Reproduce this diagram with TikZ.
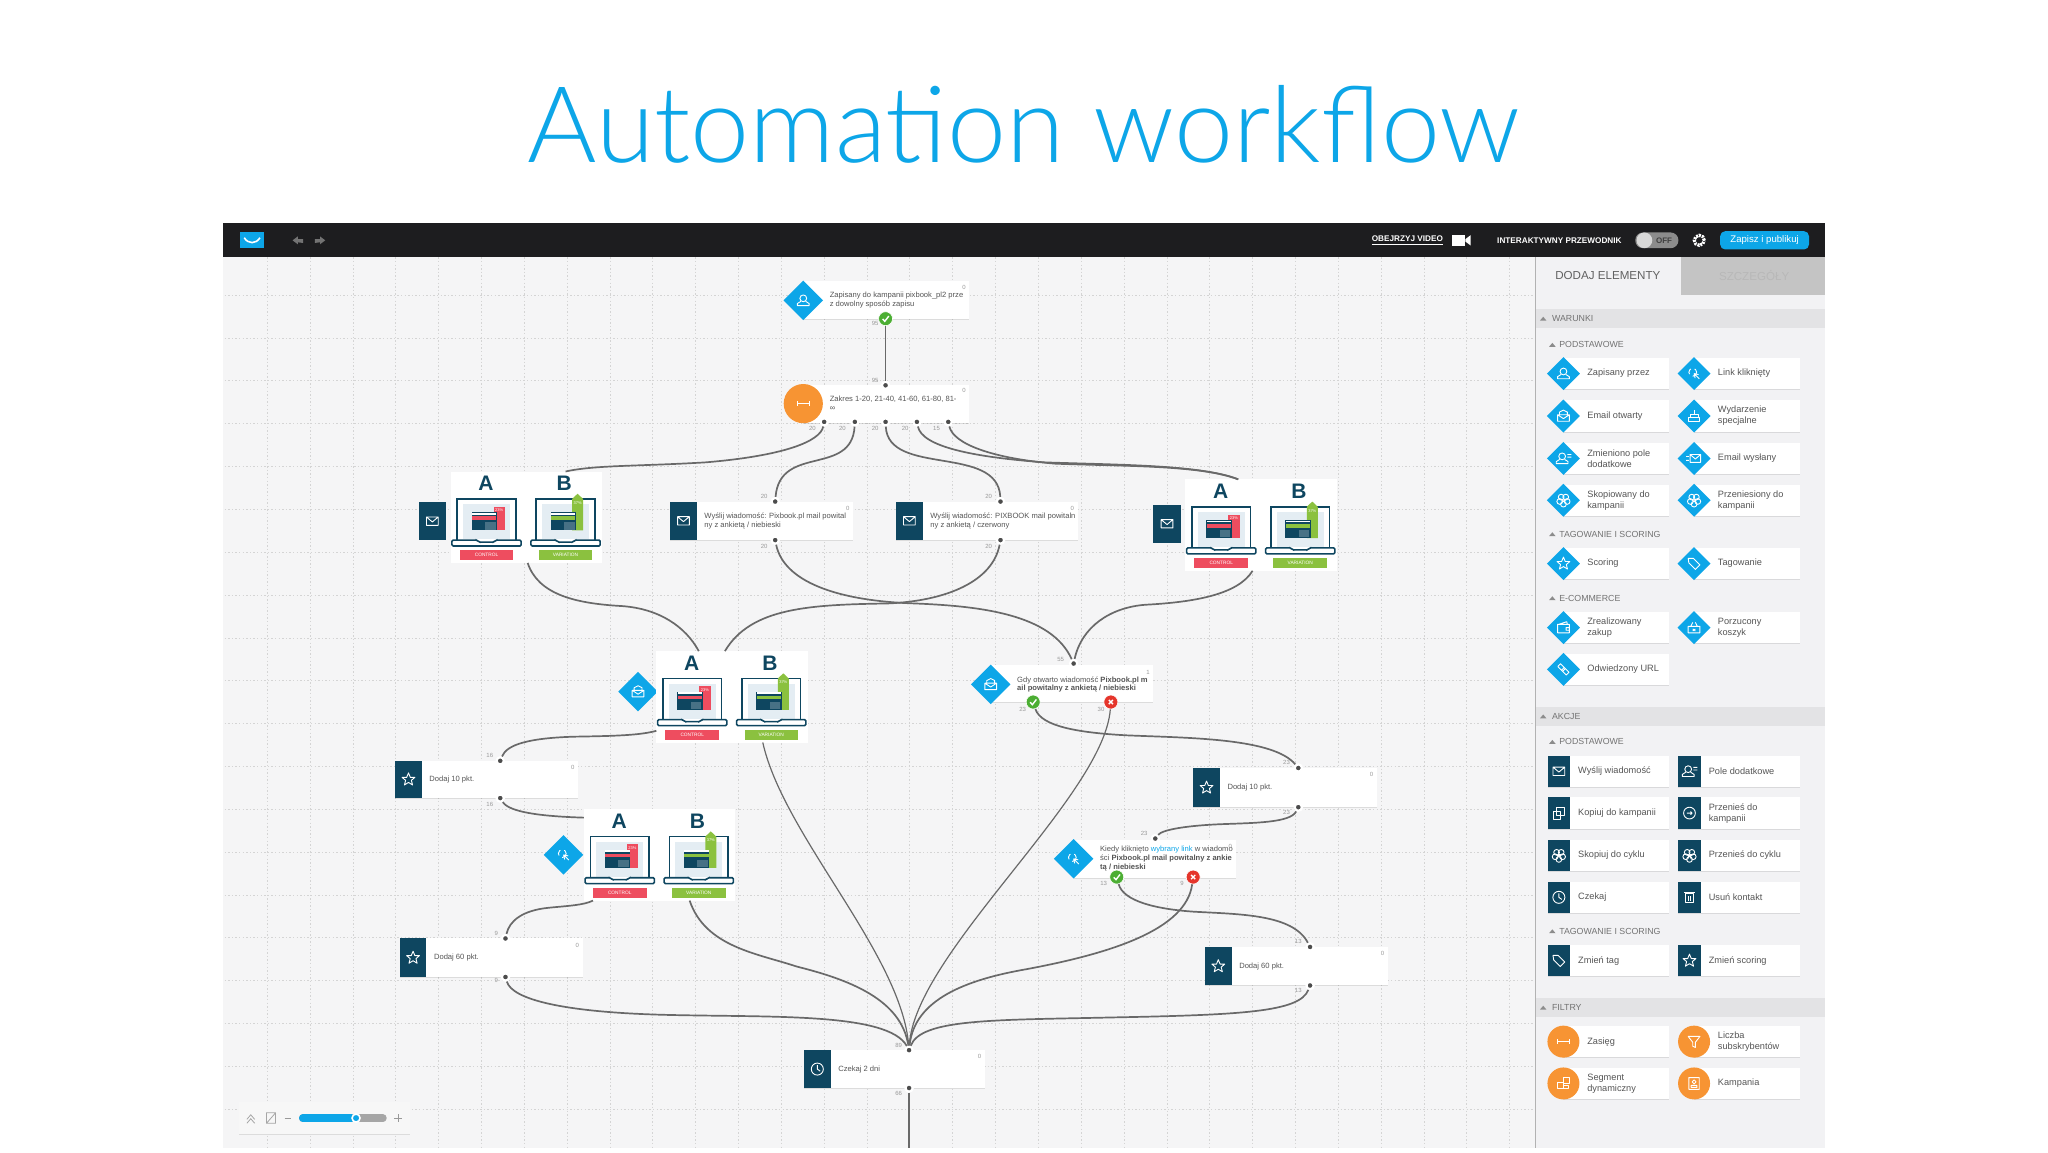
\documentclass[tikz,border=0pt]{standalone}
\usepackage{fontspec}
\setmainfont{Liberation Sans}
\newfontfamily\titlefont{Lato Light}
\usetikzlibrary{shapes.geometric}
\usetikzlibrary{shadows}

\definecolor{skyblue}{HTML}{0DA6E8}
\definecolor{navy}{HTML}{0E4660}
\definecolor{orangefill}{HTML}{F79433}
\definecolor{okgreen}{HTML}{4CAE33}
\definecolor{badred}{HTML}{E5352B}
\definecolor{barblack}{HTML}{1D1D1F}
\definecolor{canvas}{HTML}{F5F5F6}
\definecolor{sidebg}{HTML}{F2F2F4}
\definecolor{sectionbg}{HTML}{E3E3E5}
\definecolor{wire}{HTML}{696969}
\definecolor{bodytext}{HTML}{555555}
\definecolor{lapred}{HTML}{EE4D5F}
\definecolor{lapgreen}{HTML}{8BC13F}
\definecolor{lappale}{HTML}{E4EDF3}

\newcommand{\pxu}{0.65306pt}

\tikzset{
    griddot/.style={draw=black!17, line width=0.4pt, dash pattern=on 0.7pt off 1.1pt},
    wireline/.style={draw=wire, line width=0.85pt},
    thinwire/.style={draw=wire, line width=0.6pt},
    card/.style={fill=white, inner sep=0pt, drop shadow={shadow xshift=0pt, shadow yshift=-0.5pt, opacity=0.10, fill=black}},
    flowtext/.style={anchor=west, align=left, inner sep=0pt, text=bodytext, font=\fontsize{3.8}{4.4}\selectfont},
    sidetext/.style={anchor=west, align=left, inner sep=0pt, text=bodytext, font=\fontsize{4.6}{5.5}\selectfont},
    headtext/.style={anchor=west, inner sep=0pt, text=black!55, font=\fontsize{4.4}{5}\selectfont},
    barlabel/.style={anchor=west, inner sep=0pt, text=white, font=\fontsize{4.1}{5}\selectfont\bfseries},
    countlabel/.style={inner sep=0pt, text=black!40, font=\fontsize{3}{4}\selectfont},
    port/.style={circle, fill=black!70, draw=white, line width=1.1pt, inner sep=0pt, minimum size=3.6pt},
    okport/.style={circle, fill=okgreen, draw=white, line width=0.3pt, inner sep=0pt, minimum size=7pt},
    badport/.style={circle, fill=badred, draw=white, line width=0.3pt, inner sep=0pt, minimum size=7pt},
    bluediamond/.style={diamond, fill=skyblue, inner sep=0pt, aspect=1},
    orangecircle/.style={circle, fill=orangefill, inner sep=0pt},
    navybox/.style={rectangle, fill=navy, inner sep=0pt},
    ico/.style={draw=white, line width=0.45pt, fill=none, line join=round},
    icomail/.pic={\draw[ico] (-4.5,-3.2) rectangle (4.5,3.2) (-4.5,-3.2) -- (0,0.6) -- (4.5,-3.2);},
    icoopen/.pic={\draw[ico] (-4.5,-1) rectangle (4.5,4) (-4.5,-1) -- (0,2) -- (4.5,-1) (-3,-1) -- (-3,-3) -- (0,-4.5) -- (3,-3) -- (3,-1);},
    icostar/.pic={\draw[ico] (0,-5) -- (1.4,-1.6) -- (4.9,-1.6) -- (2.2,0.7) -- (3.1,4.2) -- (0,2.3) -- (-3.1,4.2) -- (-2.2,0.7) -- (-4.9,-1.6) -- (-1.4,-1.6) -- cycle;},
    icoperson/.pic={\draw[ico] (0,-1.6) circle (2.6) (-2,0.8) -- (-4.5,2.4) -- (-4.5,4) -- (4.5,4) -- (4.5,2.4) -- (2,0.8);},
    icoeditor/.pic={\draw[ico] (-1,-1.6) circle (2.6) (-3,0.8) -- (-5.5,2.4) -- (-5.5,4) -- (3.5,4) -- (3.5,2.4) -- (1,0.8) (3,-3) -- (6,-3) (3,-1) -- (6,-1);},
    icoclock/.pic={\draw[ico] (0,0) circle (4.6) (0,-3) -- (0,0) -- (2.2,1.6);},
    icotag/.pic={\draw[ico] (-4.5,-4) -- (-0.5,-4) -- (4.5,1) -- (1,4.5) -- (-4,-0.5) -- cycle;},
    icolink/.pic={\draw[ico, densely dashed] (-1,-1) circle (3); \draw[ico] (0,0) -- (4,4) (0,0) -- (3.5,0.8) (0,0) -- (0.8,3.5);},
    icocake/.pic={\draw[ico] (-4.5,1) rectangle (4.5,4) (-3,1) -- (-3,-1.5) -- (3,-1.5) -- (3,1) (0,-1.5) -- (0,-4.5);},
    icosent/.pic={\draw[ico] (-3,-3) rectangle (5,3) (-3,-3) -- (1,0.4) -- (5,-3) (-6,-1.5) -- (-4,-1.5) (-6,1.5) -- (-4,1.5);},
    icoblob/.pic={\foreach \a in {0,72,144,216,288} \draw[ico] (\a+18:3) circle (2.2); \draw[ico] (-1.5,0) -- (1.5,0) (0.6,-1) -- (1.5,0) -- (0.6,1);},
    icocopy/.pic={\draw[ico] (-1.5,-4) rectangle (4.5,2) (-4.5,-1.5) rectangle (1,4.5);},
    icomove/.pic={\draw[ico] (0,0) circle (4.5) (-2,0) -- (2,0) (0.8,-1.2) -- (2,0) -- (0.8,1.2);},
    icotrash/.pic={\draw[ico] (-3,-2.6) rectangle (3,4) (-4,-3.6) -- (4,-3.6) (-1,-1) -- (-1,2.6) (1,-1) -- (1,2.6);},
    icowallet/.pic={\draw[ico] (-4.5,-2.5) rectangle (4.5,4) (-3.5,-2.5) -- (2.5,-4.5) -- (3,-2.5) (4.5,0) -- (2,0) -- (2,2) -- (4.5,2);},
    icobasket/.pic={\draw[ico] (-4.5,-1) rectangle (4.5,4) (-2.5,-1) -- (-1,-4) (2.5,-1) -- (1,-4) (-1,1) -- (1,2.6) (1,1) -- (-1,2.6);},
    icochain/.pic={\draw[ico, rotate=-45] (-4.6,-1.5) rectangle (0.6,1.5) (-0.6,-1.5) rectangle (4.6,1.5);},
    icorange/.pic={\draw[ico] (-4.5,-2) -- (-4.5,2) (4.5,-2) -- (4.5,2) (-4.5,0) -- (4.5,0);},
    icofunnel/.pic={\draw[ico] (-4.5,-4) -- (4.5,-4) -- (1,0.5) -- (1,4.5) -- (-1,3.5) -- (-1,0.5) -- cycle;},
    icosegment/.pic={\draw[ico] (-4.5,-1) rectangle (0,4) (0,1.5) -- (4,1.5) -- (4,4) -- (0,4) (0,-4.5) rectangle (4.5,0);},
    icobook/.pic={\draw[ico] (-4,-4.5) rectangle (4,4.5) (0,-1.2) circle (1.5) (-2.2,3) -- (-2.2,1.5) -- (2.2,1.5) -- (2.2,3) -- cycle;},
    icocheck/.pic={\draw[white, line width=0.7pt] (-2.3,0.2) -- (-0.6,2) -- (2.5,-2);},
    icocross/.pic={\draw[white, line width=0.7pt] (-1.6,-1.6) -- (1.6,1.6) (-1.6,1.6) -- (1.6,-1.6);},
}

% laptop with its inner window, the bar is added by lapa and lapb
\newcommand{\lapbody}[1]{
    \draw[navy, line width=0.8pt, fill=white] (-22.5,15) -- (-22.5,-18) -- (22.5,-18) -- (22.5,15);
    \fill[lappale] (-18,-14) rectangle (18,13);
    \draw[navy, line width=0.8pt, fill=white, rounded corners=0.6pt] (-26.5,13.5) -- (-7,13.5) -- (-6,15) -- (6,15) -- (7,13.5) -- (26.5,13.5) -- (26.5,18) -- (-26.5,18) -- cycle;
}
\newcommand{\lapwindow}[1]{
    \fill[navy] (-11.5,-8) rectangle (8,6);
    \fill[white] (-11,-7.5) rectangle (7.5,-6);
    \fill[#1] (-11,-5) rectangle (7.5,-2);
    \fill[black!10!lappale!30!navy] (-1,0) rectangle (7,5.5);
}
\tikzset{
    lapa/.pic={
        \lapbody{lapred}
        \fill[lapred] (5.5,-12) rectangle (14,6);
        \lapwindow{lapred}
        \node[inner sep=0pt, text=white, font=\fontsize{2}{2}\selectfont] (lapapct) at (9.7,-9.5) {23\%};
    },
    lapb/.pic={
        \lapbody{lapgreen}
        \fill[lapgreen] (5,-18) -- (9.2,-22) -- (13.4,-18) -- (13.4,6) -- (5,6) -- cycle;
        \lapwindow{lapgreen}
        \node[inner sep=0pt, text=white, font=\fontsize{2}{2}\selectfont] (lapbpct) at (9.2,-15) {37\%};
    },
}

% the white a/b block, from its top left corner
\newcommand{\abtest}[3]{
    \node[rectangle, fill=white, inner sep=0pt, minimum width=116*\pxu, minimum height=70*\pxu] (#1) at ({#2+58},{#3+35}) {};
    \node[inner sep=0pt, text=navy, font=\fontsize{10.5}{11}\selectfont\bfseries] (#1a) at ({#2+27},{#3+9}) {A};
    \node[inner sep=0pt, text=navy, font=\fontsize{10.5}{11}\selectfont\bfseries] (#1b) at ({#2+87},{#3+9}) {B};
    \pic at ({#2+27.5},{#3+39}) {lapa};
    \pic at ({#2+88},{#3+39}) {lapb};
    \node[rectangle, fill=lapred, text=white, inner sep=0pt, minimum width=41*\pxu, minimum height=7.5*\pxu, font=\fontsize{2.4}{3}\selectfont] (#1c) at ({#2+27.5},{#3+64}) {CONTROL};
    \node[rectangle, fill=lapgreen, text=white, inner sep=0pt, minimum width=41*\pxu, minimum height=7.5*\pxu, font=\fontsize{2.4}{3}\selectfont] (#1v) at ({#2+88},{#3+64}) {VARIATION};
}

% white card with the navy square on its left
\newcommand{\actionstep}[7]{
    \node[card, minimum width={(#4-#2)*\pxu}, minimum height={(#5-#3)*\pxu}] (#1) at ({(#2+#4)/2},{(#3+#5)/2}) {};
    \node[navybox, minimum width=20.5*\pxu, minimum height={(#5-#3)*\pxu}] (#1i) at ({#2+10.25},{(#3+#5)/2}) {};
    \pic at (#1i) {#6};
    \node[flowtext] (#1t) at ({#2+26},{(#3+#5)/2}) {#7};
    \node[countlabel] (#1n) at ({#4-4},{#3+5}) {0};
}

% white card with a blue diamond at its left end
\newcommand{\condstep}[9]{
    \node[card, minimum width={(#4-#2)*\pxu}, minimum height={(#6-#5)*\pxu}] (#1) at ({(#2+#4)/2},{(#5+#6)/2}) {};
    \node[bluediamond, minimum size=30.5*\pxu] (#1i) at (#2,#3) {};
    \pic at (#1i) {#7};
    \node[flowtext] (#1t) at ({#2+20},#3) {#8};
    \node[countlabel] (#1n) at ({#4-4},{#5+5}) {#9};
}

\begin{document}
\begin{tikzpicture}[x=0.65306pt,y=-0.65306pt]

    \useasboundingbox (0,0) rectangle (1568,882);
    \fill[white] (0,0) rectangle (1568,882);

    % title
    \node[inner sep=0pt, text=skyblue, font=\fontsize{53}{60}\titlefont] (title) at (784,95) {Automation workflow};

    % canvas and top bar
    \fill[canvas] (171,197) rectangle (1175,879);
    \fill[barblack] (171,171) rectangle (1397,197);
    \foreach \gx in {0,...,30}
        \draw[griddot] ({204.6+\gx*32.8},197) -- ++(0,682);
    \foreach \gy in {0,...,19}
        \draw[griddot] (172,{226+\gy*32.8}) -- (1175,{226+\gy*32.8});

    % top bar items
    \node[rectangle, fill=skyblue, inner sep=0pt, minimum width=18*\pxu, minimum height=12.5*\pxu] (logo) at (193,184) {};
    \draw[white, line width=0.8pt] (187,182) .. controls (190,187) and (196,187) .. (199,182);
    \foreach \ax/\as in {228/1,245/-1}
        \fill[black!55] ({\ax-\as*4},184) -- ({\ax},181) -- ({\ax},183) -- ({\ax+\as*4},183) -- ({\ax+\as*4},186) -- ({\ax},185.5) -- ({\ax},187) -- cycle;
    \node[barlabel] (video) at (1050,184) {\underline{OBEJRZYJ VIDEO}};
    \fill[white] (1112,180) rectangle (1122,188);
    \fill[white] (1122,183) -- (1126,180) -- (1126,188) -- (1122,185) -- cycle;
    \node[barlabel] (guide) at (1146,184) {INTERAKTYWNY PRZEWODNIK};
    \node[rectangle, rounded corners=3.8pt, fill=black!45, inner sep=0pt, minimum width=33*\pxu, minimum height=12*\pxu] (toggle) at (1268.5,184) {};
    \node[circle, fill=black!15, inner sep=0pt, minimum size=12*\pxu] (knob) at (1259,184) {};
    \node[inner sep=0pt, text=black!75, font=\fontsize{4}{5}\selectfont\bfseries] (off) at (1274,184) {OFF};
    \node[circle, draw=white, line width=1.6pt, dash pattern=on 1pt off 0.5pt, inner sep=0pt, minimum size=5pt] (gear) at (1301,184) {};
    \node[rectangle, rounded corners=2.5pt, fill=skyblue, text=white, inner sep=0pt, minimum width=68*\pxu, minimum height=14*\pxu, font=\fontsize{4.8}{5}\selectfont] (publish) at (1351,184) {Zapisz i publikuj};

    % side panel
    \fill[sidebg] (1175,197) rectangle (1397,879);
    \draw[black!30, line width=0.5pt] (1175.5,197) -- (1175.5,879);
    \fill[black!23] (1287,197) rectangle (1397,226);
    \node[inner sep=0pt, text=black!62, font=\fontsize{5.8}{6}\selectfont] (addtab) at (1231,211) {DODAJ ELEMENTY};
    \node[inner sep=0pt, text=black!28, font=\fontsize{5.8}{6}\selectfont] (detailtab) at (1343,211) {SZCZEGÓŁY};
    \foreach \sy/\stxt in {244/WARUNKI,548.5/AKCJE,771.5/FILTRY} {
        \fill[sectionbg] (1176,{\sy-7.5}) rectangle (1397,{\sy+7.5});
        \fill[black!45] (1179,{\sy+1.5}) -- (1184,{\sy+1.5}) -- (1181.5,{\sy-1.5}) -- cycle;
        \node[headtext] (sec\stxt) at (1188,\sy) {\stxt};
    }
    \foreach \sy/\stxt in {264/PODSTAWOWE,409/TAGOWANIE I SCORING,458/E-COMMERCE,568/PODSTAWOWE,713/TAGOWANIE I SCORING} {
        \fill[black!45] (1186,{\sy+1.5}) -- (1191,{\sy+1.5}) -- (1188.5,{\sy-1.5}) -- cycle;
        \node[headtext] (sub\sy) at (1193.5,\sy) {\stxt};
    }

    % conditions
    \foreach \cx/\cy/\ckind/\ctxt [count=\ci] in {
        1197/286/icoperson/{Zapisany przez},
        1297/286/icolink/{Link kliknięty},
        1197/318.5/icoopen/{Email otwarty},
        1297/318.5/icocake/{Wydarzenie\\specjalne},
        1197/351/icoeditor/{Zmieniono pole\\dodatkowe},
        1297/351/icosent/{Email wysłany},
        1197/383/icoblob/{Skopiowany do\\kampanii},
        1297/383/icoblob/{Przeniesiony do\\kampanii},
        1197/431.5/icostar/{Scoring},
        1297/431.5/icotag/{Tagowanie},
        1197/480.5/icowallet/{Zrealizowany\\zakup},
        1297/480.5/icobasket/{Porzucony\\koszyk},
        1197/512.5/icochain/{Odwiedzony URL}} {
        \node[card, minimum width=81*\pxu, minimum height=24*\pxu] (cardc\ci) at ({\cx+40.5},\cy) {};
        \node[bluediamond, minimum size=25.5*\pxu] (iconc\ci) at (\cx,\cy) {};
        \pic at (iconc\ci) {\ckind};
        \node[sidetext] (textc\ci) at ({\cx+18},\cy) {\ctxt};
    }

    % actions
    \foreach \cx/\cy/\ckind/\ctxt [count=\ci] in {
        1197/590.5/icomail/{Wyślij wiadomość},
        1297/590.5/icoeditor/{Pole dodatkowe},
        1197/622.5/icocopy/{Kopiuj do kampanii},
        1297/622.5/icomove/{Przenieś do\\kampanii},
        1197/655/icoblob/{Skopiuj do cyklu},
        1297/655/icoblob/{Przenieś do cyklu},
        1197/687/icoclock/{Czekaj},
        1297/687/icotrash/{Usuń kontakt},
        1197/735.5/icotag/{Zmień tag},
        1297/735.5/icostar/{Zmień scoring}} {
        \node[card, minimum width=93*\pxu, minimum height=24*\pxu] (carda\ci) at ({\cx+34.5},\cy) {};
        \node[navybox, minimum width=17*\pxu, minimum height=24*\pxu] (icona\ci) at ({\cx-3.5},\cy) {};
        \pic at (icona\ci) {\ckind};
        \node[sidetext] (texta\ci) at ({\cx+11},\cy) {\ctxt};
    }

    % filters
    \foreach \cx/\cy/\ckind/\ctxt [count=\ci] in {
        1197/797.5/icorange/{Zasięg},
        1297/797.5/icofunnel/{Liczba\\subskrybentów},
        1197/829.5/icosegment/{Segment\\dynamiczny},
        1297/829.5/icobook/{Kampania}} {
        \node[card, minimum width=81*\pxu, minimum height=24*\pxu] (cardf\ci) at ({\cx+40.5},\cy) {};
        \node[orangecircle, minimum size=24.5*\pxu] (iconf\ci) at (\cx,\cy) {};
        \pic at (iconf\ci) {\ckind};
        \node[sidetext] (textf\ci) at ({\cx+18},\cy) {\ctxt};
    }

    % zoom control
    \node[card, fill=black!3, minimum width=131*\pxu, minimum height=25*\pxu] (zoombox) at (248.5,856) {};
    \draw[black!35, line width=0.4pt] (189,857) -- (192,853.5) -- (195,857) (189,860) -- (192,856.5) -- (195,860);
    \draw[black!35, line width=0.4pt] (204,852) rectangle (211,860) (204,860) -- (211,852);
    \draw[black!40, line width=0.4pt] (218,856) -- (223,856) (302,856) -- (308,856) (305,853) -- (305,859);
    \node[rectangle, rounded corners=1.8pt, fill=black!35, inner sep=0pt, minimum width=67*\pxu, minimum height=6*\pxu] (zoomtrack) at (262.5,856) {};
    \node[rectangle, rounded corners=1.8pt, fill=skyblue, inner sep=0pt, minimum width=43*\pxu, minimum height=6*\pxu] (zoomfill) at (250.5,856) {};
    \node[circle, fill=skyblue, draw=white, line width=0.8pt, inner sep=0pt, minimum size=4pt] (zoomknob) at (272.6,856) {};

    % start and range steps
    \condstep{start}{615}{230}{742}{215}{244}{icoperson}{Zapisany do kampanii pixbook\_pl2 prze\\z dowolny sposób zapisu}{0}
    \node[card, minimum width=127*\pxu, minimum height=29*\pxu] (range) at (678.5,309.5) {};
    \node[orangecircle, minimum size=30*\pxu] (rangei) at (615,309) {};
    \pic at (rangei) {icorange};
    \node[flowtext] (ranget) at (635,308.5) {Zakres 1-20, 21-40, 41-60, 61-80, 81-\\∞};
    \node[countlabel] (rangen) at (738,299) {0};

    % mail steps
    \actionstep{mailone}{513}{384}{653}{413.5}{icomail}{Wyślij wiadomość: Pixbook.pl mail powital\\ny z ankietą / niebieski}
    \actionstep{mailtwo}{686}{384}{825}{413.5}{icomail}{Wyślij wiadomość: PIXBOOK mail powitaln\\ny z ankietą / czerwony}

    % a/b blocks
    \node[navybox, minimum width=20.5*\pxu, minimum height=29.5*\pxu] (abonei) at (331,399) {};
    \pic at (abonei) {icomail};
    \abtest{abone}{345}{361}
    \node[navybox, minimum width=21*\pxu, minimum height=29.5*\pxu] (abtwoi) at (893.5,401) {};
    \pic at (abtwoi) {icomail};
    \abtest{abtwo}{907.5}{367}
    \node[bluediamond, minimum size=30.5*\pxu] (abthreei) at (488.5,529.5) {};
    \pic at (abthreei) {icoopen};
    \abtest{abthree}{502.5}{498.5}
    \node[bluediamond, minimum size=30.5*\pxu] (abfouri) at (431.5,654.5) {};
    \pic at (abfouri) {icolink};
    \abtest{abfour}{447}{619.5}

    % condition steps
    \condstep{opened}{758.5}{524}{883}{509.5}{537.5}{icoopen}{Gdy otwarto wiadomość \textbf{Pixbook.pl m}\\\textbf{ail powitalny z ankietą / niebieski}}{1}
    \condstep{clicked}{822}{657.5}{946}{643}{672}{icolink}{Kiedy kliknięto \textcolor{skyblue}{wybrany link} w wiadomo\\ści \textbf{Pixbook.pl mail powitalny z ankie}\\\textbf{tą / niebieski}}{0}

    % score and wait steps
    \actionstep{scoreleft}{302.5}{582.5}{442.5}{611}{icostar}{Dodaj 10 pkt.}
    \actionstep{scoreright}{913.5}{588}{1054}{618}{icostar}{Dodaj 10 pkt.}
    \actionstep{bonusleft}{306}{718.5}{446}{748}{icostar}{Dodaj 60 pkt.}
    \actionstep{bonusright}{922.5}{725}{1062.5}{754.5}{icostar}{Dodaj 60 pkt.}
    \actionstep{wait}{615.5}{804}{754}{833}{icoclock}{Czekaj 2 dni}

    % ports
    \foreach \pname/\px/\py in {
        rangein/678/295, rangea/631/323, rangeb/654.5/323, rangec/678/323, ranged/702/323, rangee/726/323,
        mailonein/593.5/384, mailoneout/593.5/413.5, mailtwoin/766/384, mailtwoout/766/413.5,
        openedin/822/508, clickedin/884.5/642,
        scoreleftin/383/582.5, scoreleftout/383/611, scorerightin/994/588, scorerightout/994/618,
        bonusleftin/387/718.5, bonusleftout/387/748, bonusrightin/1003/725, bonusrightout/1003/754.5,
        waitin/696/804, waitout/696/833}
        \node[port] (\pname) at (\px,\py) {};
    \foreach \pname/\px/\py in {startok/678/244, openedok/791/537.5, clickedok/855/671.5} {
        \node[okport] (\pname) at (\px,\py) {};
        \pic at (\pname) {icocheck};
    }
    \foreach \pname/\px/\py in {openedbad/850.5/537.5, clickedbad/913.5/671.5} {
        \node[badport] (\pname) at (\px,\py) {};
        \pic at (\pname) {icocross};
    }

    % counters
    \foreach \lx/\ly/\ltxt [count=\li] in {
        670/248/95, 670/291/95, 622/328/20, 645/328/20, 670/328/20, 693/328/20, 717/328/15,
        585/380/20, 585/418/20, 757/380/20, 757/418/20, 812/505/55, 783/543/23, 843/543/30,
        375/578/16, 375/615.5/16, 985/584/23, 985/622/23, 876/638/23, 845/676/13, 905/676/9,
        380/715/9, 380/751/9, 994/721/13, 994/758/13, 688/800.5/89, 688/837/66}
        \node[countlabel] (count\li) at (\lx,\ly) {\ltxt};

    % named ends on the a/b blocks
    \coordinate (aboneup) at (433,361);
    \coordinate (abonedown) at (404,431);
    \coordinate (abtwoup) at (948,367);
    \coordinate (abtwodown) at (959,437);
    \coordinate (abthreeupa) at (535,498.5);
    \coordinate (abthreeupb) at (555,498.5);
    \coordinate (abthreeleft) at (502.5,559.5);
    \coordinate (abthreedown) at (584,568.5);
    \coordinate (abfourleft) at (447,626);
    \coordinate (abfourdowna) at (454,689.5);
    \coordinate (abfourdownb) at (528,689.5);
    \coordinate (pageend) at (696,879);

    % draw connectors
    \draw[wireline] (startok) -- (rangein);
    \draw[wireline] (rangea) .. controls (628,338) and (600,349) .. (540,354) .. controls (490,357) and (455,356) .. (aboneup);
    \draw[wireline] (rangeb) .. controls (652,365) and (597,340) .. (mailonein);
    \draw[wireline] (rangec) .. controls (680,365) and (764,340) .. (mailtwoin);
    \draw[wireline] (ranged) .. controls (706,342) and (745,350) .. (800,354) .. controls (860,356) and (920,356) .. (abtwoup);
    \draw[wireline] (rangee) .. controls (730,340) and (760,351) .. (808,355) .. controls (860,357) and (920,356) .. (abtwoup);
    \draw[wireline] (abonedown) .. controls (412,455) and (440,462) .. (476,464) .. controls (505,466) and (525,480) .. (abthreeupa);
    \draw[wireline] (mailoneout) .. controls (600,445) and (640,460) .. (700,462) .. controls (750,464) and (805,470) .. (openedin);
    \draw[wireline] (mailtwoout) .. controls (760,445) and (725,460) .. (680,462) .. controls (620,463) and (575,465) .. (abthreeupb);
    \draw[wireline] (abtwodown) .. controls (948,455) and (915,461) .. (877,463) .. controls (850,465) and (828,480) .. (openedin);
    \draw[wireline] (openedok) .. controls (797,556) and (825,561) .. (863,563) .. controls (910,565) and (975,565) .. (scorerightin);
    \draw[wireline] (scorerightout) .. controls (988,630) and (960,630) .. (935,631) .. controls (910,632) and (890,635) .. (clickedin);
    \draw[wireline] (clickedok) .. controls (860,690) and (885,696) .. (914,698) .. controls (950,700) and (990,700) .. (bonusrightin);
    \draw[wireline] (scoreleftin) .. controls (388,570) and (405,565) .. (440,564) .. controls (470,563.5) and (490,563) .. (abthreeleft);
    \draw[wireline] (scoreleftout) .. controls (390,622) and (415,625) .. (abfourleft);
    \draw[wireline] (bonusleftin) .. controls (390,705) and (400,697) .. (420,695) .. controls (435,693.5) and (447,693) .. (abfourdowna);
    \draw[thinwire] (abthreedown) .. controls (600,640) and (690,730) .. (waitin);
    \draw[wireline] (abfourdownb) .. controls (540,725) and (580,730) .. (610,740) .. controls (650,750) and (690,765) .. (waitin);
    \draw[wireline] (bonusleftout) .. controls (392,765) and (430,775) .. (510,777) .. controls (590,779) and (680,775) .. (waitin);
    \draw[thinwire] (openedbad) .. controls (845,610) and (700,730) .. (waitin);
    \draw[wireline] (clickedbad) .. controls (908,712) and (850,730) .. (786,742) .. controls (740,750) and (700,765) .. (waitin);
    \draw[wireline] (bonusrightout) .. controls (995,775) and (950,777) .. (850,779) .. controls (760,781) and (705,780) .. (waitin);
    \draw[thinwire] (waitout) -- (pageend);

\end{tikzpicture}
\end{document}
